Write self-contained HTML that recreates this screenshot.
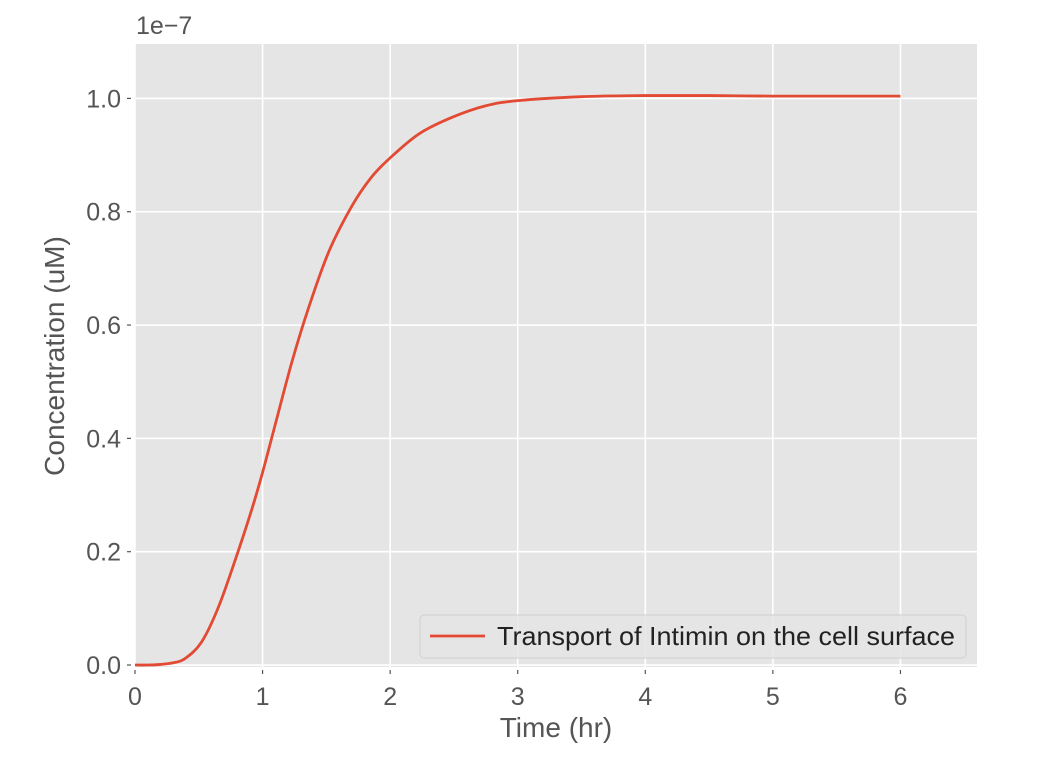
<!DOCTYPE html>
<html><head><meta charset="utf-8"><style>
html,body{margin:0;padding:0;background:#fff;}
svg{display:block;font-family:"Liberation Sans","DejaVu Sans",sans-serif;}
</style></head><body>
<svg id="chart" width="1044" height="758" viewBox="0 0 1044 758" xmlns="http://www.w3.org/2000/svg"></svg>
<script>
const timeHr = [0,0.1,0.2,0.3,0.39,0.52,0.65,0.785,0.916,1.0,1.1,1.23,1.36,1.52,1.70,1.85,2.0,2.23,2.49,2.75,3.0,3.5,4.0,4.5,5.0,5.5,6.0];
const concentration = [0,0,0.001,0.004,0.011,0.04,0.10,0.185,0.275,0.34,0.425,0.535,0.63,0.73,0.81,0.86,0.895,0.938,0.967,0.987,0.996,1.003,1.005,1.005,1.004,1.004,1.004];
const xTicks = [0,1,2,3,4,5,6];
const yTicks = [0,0.2,0.4,0.6,0.8,1.0];
const yTickLabels = ["0.0","0.2","0.4","0.6","0.8","1.0"];

const L=135,R=977,T=44,B=667;
const xMin=0,xMax=6.6,yMin=-0.0035,yMax=1.096;
const sx=v=>L+(v-xMin)/(xMax-xMin)*(R-L);
const sy=v=>B-(v-yMin)/(yMax-yMin)*(B-T);
const svg=document.getElementById('chart');
const NS='http://www.w3.org/2000/svg';
function mk(tag,attrs,parent){const e=document.createElementNS(NS,tag);for(const k in attrs)e.setAttribute(k,attrs[k]);(parent||svg).appendChild(e);return e;}

const bg=mk('rect',{x:L,y:T,width:R-L,height:B-T,fill:'#e5e5e5'});



xTicks.forEach(t=>{
  const x=sx(t);
  const g=mk('line',{x1:x,x2:x,y1:T,y2:B,stroke:'#fff','stroke-width':1.6});
  
  
  const tk=mk('line',{x1:x,x2:x,y1:B+3,y2:B+7,stroke:'#555','stroke-width':1.2});
  
  
  const lb=mk('text',{x:x,y:B+38,'text-anchor':'middle','font-size':25,fill:'#555'});
  lb.textContent=String(t);
  
  
});
yTicks.forEach((t,i)=>{
  const y=sy(t);
  const g=mk('line',{x1:L,x2:R,y1:y,y2:y,stroke:'#fff','stroke-width':1.6});
  
  
  const tk=mk('line',{x1:L-8,x2:L-4,y1:y,y2:y,stroke:'#555','stroke-width':1.2});
  
  
  const lb=mk('text',{x:L-14,y:y+9,'text-anchor':'end','font-size':25,fill:'#555'});
  lb.textContent=yTickLabels[i];
  
  
});

const pts=timeHr.map((t,i)=>[sx(t),sy(concentration[i])]);
let d='M'+pts[0][0].toFixed(2)+','+pts[0][1].toFixed(2);
for(let i=0;i<pts.length-1;i++){
  const p0=pts[i-1]||pts[i],p1=pts[i],p2=pts[i+1],p3=pts[i+2]||p2;
  const c1=[p1[0]+(p2[0]-p0[0])/6,p1[1]+(p2[1]-p0[1])/6];
  const c2=[p2[0]-(p3[0]-p1[0])/6,p2[1]-(p3[1]-p1[1])/6];
  d+=' C'+c1[0].toFixed(2)+','+c1[1].toFixed(2)+' '+c2[0].toFixed(2)+','+c2[1].toFixed(2)+' '+p2[0].toFixed(2)+','+p2[1].toFixed(2);
}
const line=mk('path',{d:d,fill:'none',stroke:'#e24a33','stroke-width':2.8,'stroke-linejoin':'round'});



const off=mk('text',{x:136,y:34,'font-size':25,fill:'#555'});
off.textContent='1e\u22127';



const xt=mk('text',{x:556,y:737,'text-anchor':'middle','font-size':28,fill:'#555'});
xt.textContent='Time (hr)';



const yt=mk('text',{x:0,y:0,'text-anchor':'middle','font-size':28,fill:'#555',transform:'translate(64,356) rotate(-90)'});
yt.textContent='Concentration (uM)';



const lg=mk('g',{});


const lbx=mk('rect',{x:420,y:615,width:546,height:43,rx:4,fill:'#e5e5e5',stroke:'#d0d0d0','stroke-width':1,'fill-opacity':0.85},lg);


const ll=mk('line',{x1:430,x2:485,y1:636,y2:636,stroke:'#e24a33','stroke-width':2.8},lg);


const lt=mk('text',{x:497,y:645,'font-size':26,fill:'#222',textLength:458,lengthAdjust:'spacingAndGlyphs'},lg);
lt.textContent='Transport of Intimin on the cell surface';


</script>
</body></html>
